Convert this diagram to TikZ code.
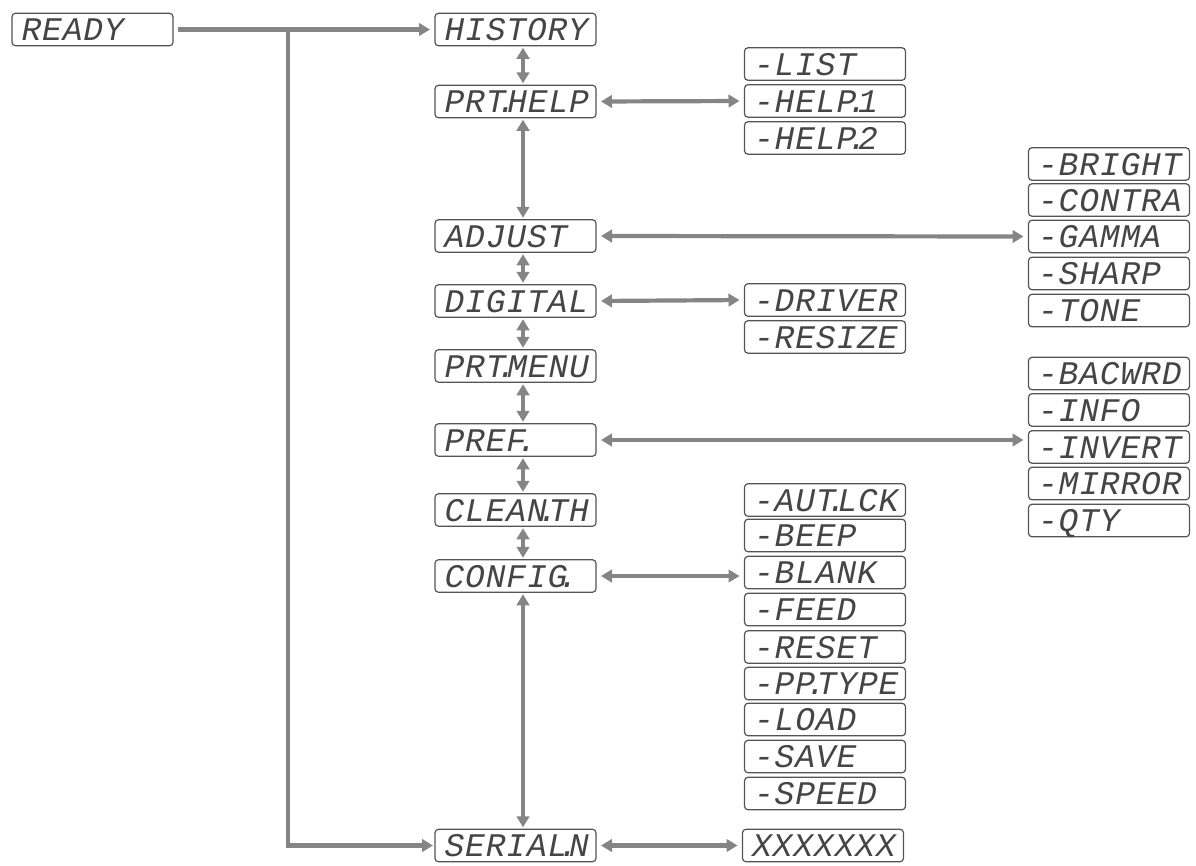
\documentclass[tikz,border=0pt]{standalone}
\usepackage{fontspec}
\setmainfont[LetterSpace=2.5]{Liberation Mono}
\usetikzlibrary{arrows.meta}
\definecolor{lcdline}{gray}{0.33}
\definecolor{lcdtext}{gray}{0.27}
\definecolor{linkgray}{gray}{0.52}
\newcommand\dotc{\kern-9pt.\kern-9pt}
\newcommand\bx[4]{\node[lcd] (#1) at (#2,#3) {\makebox[142pt][l]{#4}};}
\tikzset{
  lcd/.style={draw=lcdline,fill=white,line width=1.2pt,rounded corners=3.5pt,
    text=lcdtext,inner xsep=9.5pt,inner ysep=0pt,
    minimum height=32.5pt,text height=22pt,text depth=0pt,outer sep=0pt,
    execute at begin node={\fontsize{33}{33}\selectfont\itshape}},
  link/.style={draw=linkgray,line width=4.2pt},
  twoway/.style={link,{Triangle[length=11pt,width=12.5pt]}-{Triangle[length=11pt,width=12.5pt]},shorten >=5pt,shorten <=5pt},
  oneway/.style={link,-{Triangle[length=11pt,width=12.5pt]}}
}
\begin{document}
\begin{tikzpicture}[x=1pt,y=-1pt]
\useasboundingbox (0,0) rectangle (1196,865);
\bx{ready}{92.5}{29.5}{READY}
\bx{hist}{515.5}{29.5}{HISTORY}
\bx{help}{515.5}{101.5}{PRT\dotc HELP}
\bx{adj}{515.5}{236}{ADJUST}
\bx{dig}{515.5}{301}{DIGITAL}
\bx{menu}{515.5}{366}{PRT\dotc MENU}
\bx{pref}{515.5}{440}{PREF\dotc}
\bx{clean}{515.5}{510}{CLEAN\dotc TH}
\bx{conf}{515.5}{576}{CONFIG\dotc}
\bx{serial}{515.5}{845.5}{SERIAL\dotc N}
\bx{list}{825}{64}{-LIST}
\bx{helpa}{825}{101}{-HELP\dotc 1}
\bx{helpb}{825}{138}{-HELP\dotc 2}
\bx{driver}{825}{300}{-DRIVER}
\bx{resize}{825}{337}{-RESIZE}
\bx{aut}{825}{500}{-AUT\dotc LCK}
\bx{beep}{825}{535.5}{-BEEP}
\bx{blank}{825}{572.5}{-BLANK}
\bx{feed}{825}{609.5}{-FEED}
\bx{reset}{825}{647}{-RESET}
\bx{pp}{825}{683.5}{-PP\dotc TYPE}
\bx{load}{825}{719.5}{-LOAD}
\bx{save}{825}{756.5}{-SAVE}
\bx{speed}{825}{793.5}{-SPEED}
\bx{xxx}{823}{845.5}{XXXXXXX}
\bx{bright}{1109}{164}{-BRIGHT}
\bx{contra}{1109}{200}{-CONTRA}
\bx{gamma}{1109}{236.5}{-GAMMA}
\bx{sharp}{1109}{273.5}{-SHARP}
\bx{tone}{1109}{310.5}{-TONE}
\bx{bacwrd}{1109}{373.5}{-BACWRD}
\bx{info}{1109}{410}{-INFO}
\bx{invert}{1109}{447}{-INVERT}
\bx{mirror}{1109}{483.5}{-MIRROR}
\bx{qty}{1109}{520.5}{-QTY}
% vertical links, off-centre to the right of the column
\foreach \a/\b in {hist/help,help/adj,adj/dig,dig/menu,menu/pref,pref/clean,clean/conf,conf/serial}
  \draw[twoway,shorten >=2pt,shorten <=2pt] ([xshift=7.5pt]\a.south) -- ([xshift=7.5pt]\b.north);
% horizontal links
\draw[twoway] (help.east) -- (helpa.west);
\draw[twoway] (adj.east) -- (gamma.west);
\draw[twoway] (dig.east) -- (driver.west);
\draw[twoway] (pref.east) -- (pref.east -| invert.west);
\draw[twoway] (conf.east) -- (conf.east -| blank.west);
\draw[twoway] (serial.east) -- (xxx.west);
% tree from READY
\coordinate (fork) at (288,29.5);
\draw[oneway,shorten <=5pt,shorten >=5pt] (ready.east) -- (hist.west);
\draw[oneway,shorten >=2pt] (fork) -- (fork |- serial.west) -- (serial.west);
\end{tikzpicture}
\end{document}
